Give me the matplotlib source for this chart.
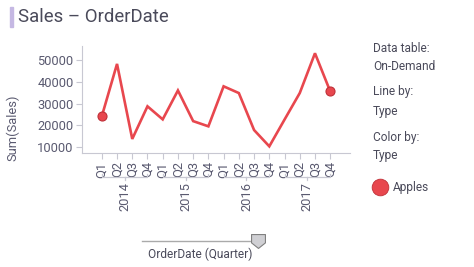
# Sales by quarter line chart
import numpy as np
import matplotlib.pyplot as plt
from matplotlib.path import Path

plt.rcParams['font.family'] = ['Roboto', 'DejaVu Sans']

# ----------------------------------------
# Data
# ----------------------------------------
years = ['2014', '2015', '2016', '2017']
quarters = ['Q1', 'Q2', 'Q3', 'Q4']
sales = [24100, 48200, 13700, 28700,
         22700, 36000, 21900, 19500,
         37900, 34800, 17800, 10300,
         22600, 34800, 53100, 35600]
y_ticks = [10000, 20000, 30000, 40000, 50000]

line_color = '#e8474e'
text_color = '#5a5a70'
axis_color = '#c8c8d2'

# ----------------------------------------
# Figure
# ----------------------------------------
fig = plt.figure(figsize=(4.74, 2.67), dpi=100)
W, H = 474, 267
ax = fig.add_axes([82 / W, 1 - 153 / H, (350 - 82) / W, (153 - 46) / H])

x = np.arange(len(sales))
ax.plot(x, sales, color=line_color, lw=1.9, solid_joinstyle='miter')
ax.plot([x[0], x[-1]], [sales[0], sales[-1]], 'o', color=line_color,
        markeredgecolor='#c03038', markersize=6.5, markeredgewidth=0.8)

ax.set_xlim(-1.3, 16.3)
ax.set_ylim(7240, 56440)
ax.set_yticks(y_ticks)
ax.set_yticklabels([str(v) for v in y_ticks])
ax.set_xticks(x)
ax.set_xticklabels(quarters * len(years), rotation=90)

for side in ['top', 'right']:
    ax.spines[side].set_visible(False)
for side in ['left', 'bottom']:
    ax.spines[side].set_color(axis_color)
ax.tick_params(axis='both', colors=axis_color, labelcolor=text_color,
               labelsize=9.3, length=4, pad=2)

fig.text(13 / W, 1 - 128 / H, 'Sum(Sales)', rotation=90,
         ha='center', va='center', color=text_color, fontsize=9.3)

# year brackets under quarter labels
trans = ax.get_xaxis_transform()
for i, yr in enumerate(years):
    x0 = i * 4
    x1 = i * 4 + 3
    yb = -0.225
    ax.plot([x0, x0, x1, x1], [yb + 0.03, yb, yb, yb + 0.03], color=axis_color,
            lw=0.9, transform=trans, clip_on=False)
    ax.plot([(x0 + x1) / 2] * 2, [yb, yb - 0.03], color=axis_color,
            lw=0.9, transform=trans, clip_on=False)
    ax.text((x0 + x1) / 2, yb - 0.05, yr, transform=trans, rotation=90,
            ha='center', va='top', color=text_color, fontsize=9.3)

# ----------------------------------------
# Title
# ----------------------------------------
fig.patches.append(plt.Rectangle((10 / W, 1 - 27 / H), 3 / W, 20 / H,
                                 transform=fig.transFigure, color='#c5b8e3'))
fig.text(18 / W, 1 - 17 / H, 'Sales – OrderDate', ha='left', va='center',
         fontsize=13.4, color='#4a4a5a')

# ----------------------------------------
# Legend panel
# ----------------------------------------
legend_lines = [('Data table:', 48), ('On-Demand', 67), ('Line by:', 92),
                ('Type', 111), ('Color by:', 137), ('Type', 156)]
for txt, yy in legend_lines:
    fig.text(373 / W, 1 - yy / H, txt, ha='left', va='center',
             fontsize=8.6, color='#4a4a5a')
fig.add_artist(plt.Line2D([380 / W], [1 - 187 / H], marker='o',
                          markersize=12, color=line_color,
                          markeredgecolor='#c03038', markeredgewidth=0.6))
fig.text(393 / W, 1 - 187 / H, 'Apples', ha='left', va='center',
         fontsize=8.6, color='#4a4a5a')

# ----------------------------------------
# Slider
# ----------------------------------------
fig.add_artist(plt.Line2D([142 / W, 257 / W], [1 - 241 / H] * 2,
                          color='#aaaaaa', lw=1))
handle = Path([(-1, 1), (1, 1), (1, -0.2), (0, -1), (-1, -0.2), (-1, 1)],
              [Path.MOVETO, Path.LINETO, Path.LINETO, Path.LINETO,
               Path.LINETO, Path.CLOSEPOLY])
fig.add_artist(plt.Line2D([258 / W], [1 - 241 / H], marker=handle,
                          markersize=10, color='#d0d0d4',
                          markeredgecolor='#808080', markeredgewidth=0.8))
fig.text(200 / W, 1 - 254 / H, 'OrderDate (Quarter)', ha='center',
         va='center', fontsize=8.6, color='#4a4a5a')

plt.savefig('out.png', dpi=100)
